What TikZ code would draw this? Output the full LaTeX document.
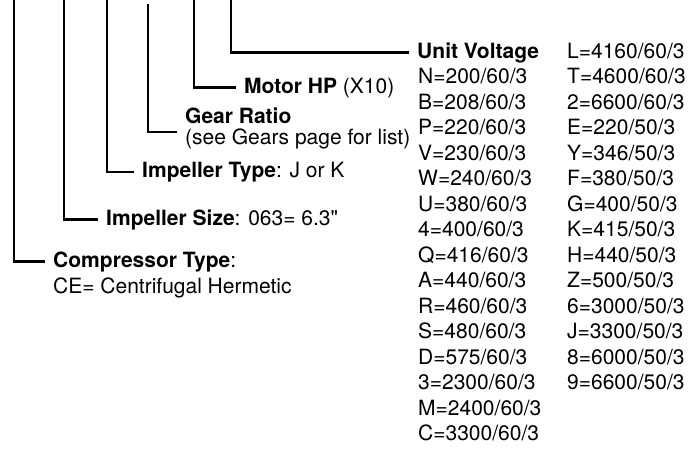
\documentclass[tikz,border=0pt]{standalone}
\usepackage{fontspec}
\setmainfont{TeX Gyre Heros}[Ligatures=TeXOff]
\usetikzlibrary{positioning}

\begin{document}
\begin{tikzpicture}[
    x=1pt, y=-1pt,
    lead/.style={line width=2.2pt, black, shorten >=8pt},
    field/.style={anchor=base west, inner sep=0pt, font=\fontsize{21}{21}\selectfont},
    note/.style={field, align=left},
    codes/.style={anchor=base west, inner sep=0pt, align=left, font=\fontsize{21}{25.5}\selectfont}
  ]
  \useasboundingbox (0,0) rectangle (691,448);
  % free ends of the leads at the top edge
  \coordinate (comptop) at (14,0);
  \coordinate (sizetop) at (64,0);
  \coordinate (typetop) at (107,0);
  \coordinate (geartop) at (148,4);
  \coordinate (motortop) at (194,0);
  \coordinate (volttop) at (231,0);
  % fields (base of a two-line node is its last line)
  \node[field] (volt) at (417,58) {\textbf{Unit Voltage}};
  \node[field] (motor) at (244,93) {\textbf{Motor HP} (X10)};
  \node[note] (gear) at (185,144) {\textbf{Gear Ratio}\\(see Gears page for list)};
  \node[field] (imptype) at (142,177) {\textbf{Impeller Type}: J or K};
  \node[field] (impsize) at (106,225) {\textbf{Impeller Size}: 063= 6.3"};
  \node[field] (comp) at (53,267) {\textbf{Compressor Type}:};
  \node[field, below=6pt of comp.south west, anchor=north west] (compnote)
    {CE= Centrifugal Hermetic};
  % voltage codes
  \node[codes] (voltsA) at (418,440.5)
    {N=200/60/3\\B=208/60/3\\P=220/60/3\\V=230/60/3\\W=240/60/3\\
     U=380/60/3\\4=400/60/3\\Q=416/60/3\\A=440/60/3\\R=460/60/3\\
     S=480/60/3\\D=575/60/3\\3=2300/60/3\\M=2400/60/3\\C=3300/60/3};
  \node[codes] (voltsB) at (567,389.5)
    {L=4160/60/3\\T=4600/60/3\\2=6600/60/3\\E=220/50/3\\Y=346/50/3\\
     F=380/50/3\\G=400/50/3\\K=415/50/3\\H=440/50/3\\Z=500/50/3\\
     6=3000/50/3\\J=3300/50/3\\8=6000/50/3\\9=6600/50/3};
  % leads
  \draw[lead] (comptop) |- (comp.west);
  \draw[lead] (sizetop) |- (impsize.west);
  \draw[lead] (typetop) |- (imptype.west);
  \draw[lead] (geartop) |- ([yshift=-4pt]gear.west);
  \draw[lead] (motortop) |- (motor.west);
  \draw[lead] (volttop) |- (volt.west);
\end{tikzpicture}
\end{document}
